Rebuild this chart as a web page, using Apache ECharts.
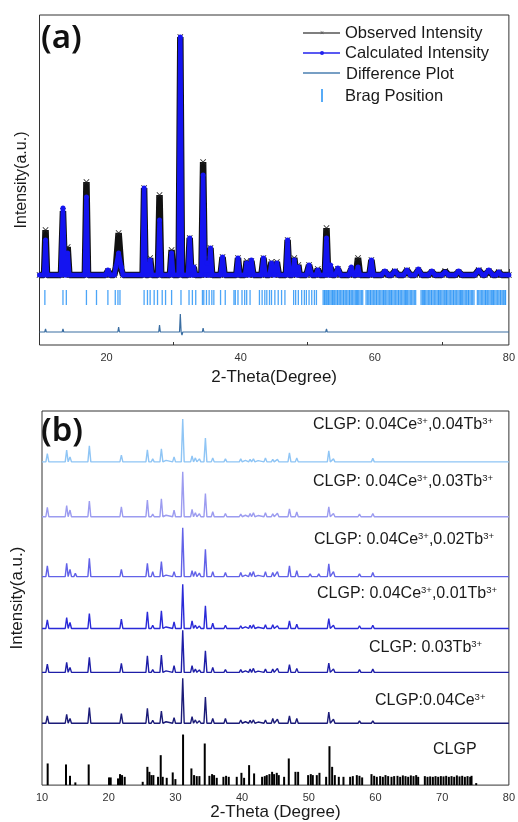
<!DOCTYPE html>
<html>
<head>
<meta charset="utf-8">
<script src="https://cdn.jsdelivr.net/npm/echarts@6/dist/echarts.min.js"></script>
<style>
  html, body { margin: 0; padding: 0; background: #fff; }
  #main { width: 518px; height: 822px; }
</style>
</head>
<body>
<div id="main"></div>
<script>
// ---------- (a) Rietveld refinement ----------
// reflection positions (2θ), calculated / observed peak heights (a.u.), half widths (°)
const aPos = [10.9, 13.5, 14.2, 17.0, 20.2, 21.4, 21.8, 22.2, 25.6, 26.5, 27.9, 29.7, 31.0, 32.4, 33.0, 34.4, 35.0, 35.5, 37.3, 39.6, 40.9, 41.6, 43.4, 44.6, 45.4, 47.0, 48.0, 48.6, 50.2, 51.5, 52.8, 53.4, 54.5, 56.5, 57.5, 59.5, 61.5, 63.0, 64.8, 66.5, 68.5, 70.5, 72.5, 75.5, 77.0, 78.5];
const aCalc = [35, 67, 22, 78, 5, 8, 22, 8, 87, 15, 55, 22, 238, 37, 8, 100, 12, 27, 18, 17, 12, 15, 17, 12, 12, 35, 15, 8, 10, 5, 37, 10, 7, 8, 8, 15, 4, 4, 5, 6, 4, 3, 4, 5, 5, 3];
const aObs = [45, 64, 28, 93, 4, 8, 42, 6, 87, 17, 80, 25, 238, 37, 8, 113, 18, 27, 18, 17, 14, 14, 17, 13, 13, 35, 17, 10, 10, 6, 47, 8, 6, 6, 17, 15, 3, 4, 5, 5, 3, 4, 3, 5, 4, 3];
const aWidth = [0.22, 0.3, 0.25, 0.24, 0.35, 0.25, 0.25, 0.25, 0.22, 0.25, 0.25, 0.25, 0.25, 0.25, 0.2, 0.25, 0.2, 0.25, 0.3, 0.25, 0.25, 0.3, 0.3, 0.3, 0.3, 0.25, 0.3, 0.2, 0.4, 0.3, 0.25, 0.2, 0.4, 0.35, 0.3, 0.3, 0.5, 0.5, 0.5, 0.5, 0.5, 0.5, 0.5, 0.6, 0.6, 0.4];

// difference curve (observed - calculated)
const diffPos = [10.9, 13.5, 14.2, 17.0, 21.8, 25.6, 26.5, 27.9, 29.7, 31.0, 31.25, 32.4, 34.4, 35.0, 47.0, 52.8, 57.5];
const diffVal = [3, 3, 2, 2, 5, 2, 2, 7, 2, 18, -3, 2, 4, 2, 2, 3, 1.5];
const diffBase = -57;

// Bragg reflection positions (2θ)
const braggPos = [
  10.8, 13.5, 14.0, 17.0, 18.5, 20.2, 21.3, 21.7, 22.0, 25.6, 26.1, 26.5, 27.1, 27.6, 28.3, 28.8, 29.7, 31.1,
  32.3, 32.8, 33.3, 34.3, 34.5, 34.9, 35.3, 35.7, 36.0, 37.0, 37.7, 39.0, 39.2, 39.6, 40.2, 40.6, 40.9, 41.4,
  42.8, 43.2, 43.6, 43.9, 44.3, 44.6, 45.1, 45.6, 46.1, 46.6, 47.9, 48.2, 48.6, 49.1, 49.5, 49.8, 50.2, 50.6,
  51.0, 51.3,
  52.3, 52.5, 52.6, 52.8, 53.0, 53.1, 53.3, 53.5, 53.7, 53.8, 54.0, 54.2, 54.4, 54.5, 54.7, 54.9, 55.1, 55.3,
  55.4, 55.6, 55.8, 56.0, 56.2, 56.3, 56.5, 56.7, 56.9, 57.1, 57.3, 57.4, 57.6, 57.8, 58.0, 58.2,
  58.7, 58.9, 59.1, 59.3, 59.4, 59.6, 59.8, 60.0, 60.2, 60.3, 60.5, 60.7, 60.9, 61.1, 61.3, 61.4, 61.6, 61.8,
  62.0, 62.2, 62.4, 62.5, 62.7, 62.9, 63.1, 63.3, 63.5, 63.6, 63.8, 64.0, 64.2, 64.4, 64.6, 64.7, 64.9, 65.1,
  65.3, 65.5, 65.7, 65.9, 66.1,
  66.9, 67.1, 67.3, 67.4, 67.6, 67.8, 68.0, 68.2, 68.4, 68.5, 68.7, 68.9, 69.1, 69.3, 69.5, 69.6, 69.8, 70.0,
  70.2, 70.4, 70.6, 70.7, 70.9, 71.1, 71.3, 71.5, 71.7, 71.8, 72.0, 72.2, 72.4, 72.6, 72.8, 72.9, 73.1, 73.3,
  73.5, 73.7, 73.9, 74.0, 74.2, 74.4, 74.6, 74.8,
  75.3, 75.5, 75.7, 75.9, 76.1, 76.3, 76.5, 76.6, 76.8, 77.0, 77.2, 77.4, 77.6, 77.7, 77.9, 78.1, 78.3, 78.5,
  78.7, 78.8, 79.0, 79.2, 79.4, 79.5
];
const braggLevel = -22.5;

// ---------- (b) XRD patterns ----------
const bPeaks = [10.8, 13.7, 14.2, 15.0, 17.1, 21.9, 25.8, 26.6, 27.9, 29.8, 31.1, 32.5, 33.0, 33.6, 34.5, 35.6, 37.5, 39.8, 41.2, 41.7, 43.5, 44.6, 45.3, 47.1, 48.2, 50.2, 51.5, 53.0, 53.7, 57.6, 59.6];
const tb04ce04 = [8.3, 11.7, 5, 2, 16, 6.7, 12, 3, 13, 5, 43, 6, 4, 3, 24, 4, 3, 3, 2.5, 3, 4, 2.5, 2.5, 9, 4, 2, 2, 11, 3, 2, 3.5];
const tb03ce04 = [9.3, 11.3, 6.7, 1.5, 15.7, 10, 16.7, 2.7, 18, 6.7, 45, 7.3, 4, 3, 23.3, 5, 3.3, 2.7, 3.3, 4, 4, 3, 3.5, 8, 4.7, 2, 2, 10, 3.3, 2.7, 3.3];
const tb02ce04 = [10.7, 13.3, 7.3, 3.3, 18.3, 7.3, 13.3, 5, 15, 5, 49, 6, 5, 3.5, 27.3, 5, 4, 4, 4, 5, 5, 4, 5, 10.7, 6, 2.7, 2.7, 12.7, 5, 2.7, 4];
const tb01ce04 = [8.7, 11, 6, 1.5, 15, 9.3, 16.7, 3.3, 17.7, 6.7, 44.3, 7.7, 3.3, 2.5, 22.7, 5.3, 3.3, 2.7, 3.3, 3.7, 3.7, 3.7, 2.7, 7.7, 4.3, 2, 2, 10, 3.3, 2.7, 3.3];
const tb03 = [8.3, 10, 5, 1.5, 15, 9, 16.7, 2.7, 17.3, 6.7, 42.3, 6.7, 3.3, 2.5, 21.7, 5, 2.7, 2.7, 3.3, 4, 3.3, 3.3, 4, 7.7, 4, 2, 2, 9.3, 3.3, 2.7, 3.3];
const ce04 = [7.3, 9, 4.7, 1.5, 15.7, 9.7, 15, 3, 12.3, 5.7, 45, 6.7, 3.3, 2.5, 26.3, 4.7, 4.7, 3.3, 3, 3.3, 3.3, 4.7, 4, 7.3, 4.7, 2, 2, 11.3, 4, 2.3, 2.3];
// weak reflections shared by all samples
const bMinorPos = [12.3, 16.0, 18.6, 19.5, 20.3, 23.1, 24.2, 28.6, 30.3, 36.4, 38.5, 40.5, 42.4, 46.2, 49.0, 54.8, 56.0, 58.6, 61.0, 62.5, 64.0, 65.5, 66.8, 68.3, 69.8, 71.3, 72.8, 74.3, 75.8, 77.3, 78.8];
const bMinorHeight = [1.2, 1.0, 1.3, 1.0, 1.5, 1.2, 1.0, 1.5, 1.2, 1.5, 1.3, 1.5, 1.2, 1.5, 1.5, 1.5, 1.3, 1.2, 1.3, 1.0, 1.3, 1.0, 1.5, 1.0, 1.2, 1.0, 1.3, 1.0, 1.2, 1.3, 1.0];
// vertical stacking offsets of the patterns
const bOffsets = { ce04: 62, tb03: 113, tb01ce04: 157, tb02ce04: 209, tb03ce04: 269, tb04ce04: 324 };

// CLGP standard card: [2θ, relative intensity]
const clgpSticks = [
  [10.85, 21.7], [13.6, 20.7], [14.2, 9.3], [15.0, 2.7], [17.0, 20.7], [20.05, 7.7], [20.3, 7.7], [21.4, 6.7],
  [21.7, 11], [22.0, 10], [22.4, 8.3], [25.1, 3.3], [25.8, 18.3], [26.1, 13.3], [26.4, 10], [26.7, 10],
  [27.4, 8.3], [27.8, 30], [28.1, 8.3], [28.7, 7.3], [29.6, 12.7], [30.0, 6], [31.15, 50.7], [32.4, 16.7],
  [32.8, 10], [33.2, 9], [33.6, 9], [34.4, 41.7], [35.1, 9.3], [35.5, 11], [35.8, 10], [36.2, 7.3],
  [37.2, 8.3], [37.6, 9.3], [38.0, 8.3], [39.2, 8.3], [39.9, 12.3], [40.3, 7.3], [41.05, 20], [41.8, 11.7],
  [43.0, 8.3], [43.4, 9], [43.7, 10], [44.1, 11], [44.5, 13.3], [44.8, 11], [45.2, 12.3], [45.5, 10],
  [46.3, 8.3], [47.0, 26.7], [48.0, 13.3], [48.4, 13.3], [49.9, 10], [50.3, 11], [50.6, 10], [51.2, 10],
  [51.6, 12.3], [52.6, 8.3], [53.1, 39], [53.5, 18.3], [53.9, 10], [54.5, 8.3], [55.2, 8.3], [56.2, 8.3],
  [56.6, 9], [57.2, 10], [57.6, 9.3], [58.0, 7.7], [59.4, 11], [59.8, 9.3], [60.2, 8.3], [60.7, 9],
  [61.1, 8.3], [61.5, 10], [61.9, 9], [62.4, 8.3], [62.8, 9], [63.3, 9.3], [63.7, 8.3], [64.1, 9.7],
  [64.5, 9], [64.9, 8.3], [65.3, 9.7], [65.7, 9], [66.1, 10], [66.4, 8.3], [67.4, 9], [67.8, 8.3],
  [68.2, 8.7], [68.6, 8.3], [69.0, 9], [69.4, 8.3], [69.8, 9], [70.2, 8.7], [70.6, 9.3], [71.0, 8.3],
  [71.4, 9], [71.8, 8.3], [72.2, 9.7], [72.6, 8.7], [73.0, 9.3], [73.4, 8.3], [73.8, 9], [74.2, 8.3],
  [74.4, 9.3], [75.1, 2]
];

const FONT = '"Liberation Sans", Arial, sans-serif';

// Turn a peak list into line vertices: each reflection rises from the baseline to its apex and back.
function buildProfile(pos, heights, halfWidths, base) {
  const order = pos.map((p, i) => i).sort((a, b) => pos[a] - pos[b]);
  const pts = [[10, base]];
  order.forEach(i => {
    const p = pos[i];
    const hw = Array.isArray(halfWidths) ? halfWidths[i] : halfWidths;
    const last = pts[pts.length - 1];
    if (p - hw > last[0]) pts.push([p - hw, base]);
    else if (pts.length > 1 && last[1] === base) pts.pop();
    pts.push([p, base + heights[i]]);
    pts.push([p + hw, base]);
  });
  pts.push([80, base]);
  return pts;
}

function pattern(heights, base) {
  return buildProfile(bPeaks.concat(bMinorPos), heights.concat(bMinorHeight), 0.22, base);
}

const xMark = 'path://M0,1L1,0L5,4L9,0L10,1L6,5L10,9L9,10L5,6L1,10L0,9L4,5Z';

const bSeries = [
  { key: 'tb04ce04', data: tb04ce04, color: '#8fc5f5' },
  { key: 'tb03ce04', data: tb03ce04, color: '#9c9cf0' },
  { key: 'tb02ce04', data: tb02ce04, color: '#6262e8' },
  { key: 'tb01ce04', data: tb01ce04, color: '#2a2ad8' },
  { key: 'tb03', data: tb03, color: '#1e1ea8' },
  { key: 'ce04', data: ce04, color: '#1b1b78' }
].map(s => ({
  type: 'line', xAxisIndex: 2, yAxisIndex: 1,
  data: pattern(s.data, bOffsets[s.key]),
  showSymbol: false, lineStyle: { color: s.color, width: 1.4 }, itemStyle: { color: s.color },
  silent: true, z: 3
}));

function supLabel(text, x, y) {
  return {
    type: 'text', x: x, y: y, silent: true,
    style: {
      text: text, align: 'left', verticalAlign: 'middle',
      rich: {
        m: { fontSize: 16, fontFamily: FONT, fill: '#1a1a1a', lineHeight: 18 },
        s: { fontSize: 9.5, fontFamily: FONT, fill: '#1a1a1a', lineHeight: 10, verticalAlign: 'top' }
      }
    }
  };
}

function legendText(text, x, y) {
  return { type: 'text', x: x, y: y, silent: true,
    style: { text: text, fontSize: 16.5, fontFamily: FONT, fill: '#1a1a1a', align: 'left', verticalAlign: 'middle' } };
}

const chart = echarts.init(document.getElementById('main'), null, { renderer: 'canvas' });

chart.setOption({
  animation: false,
  backgroundColor: '#fff',
  textStyle: { fontFamily: FONT },
  grid: [
    { left: 39.5, right: 6, top: 15, height: 330, show: true, borderColor: '#333', borderWidth: 1, backgroundColor: 'transparent' },
    { left: 42, right: 7, top: 411, height: 375, show: true, borderColor: '#333', borderWidth: 1, backgroundColor: 'transparent' }
  ],
  xAxis: [
    {
      gridIndex: 0, type: 'value', min: 10, max: 80, position: 'bottom',
      axisLine: { show: false },
      axisTick: { show: true, inside: true, length: 6, customValues: [20, 40, 60, 80], lineStyle: { color: '#333' } },
      axisLabel: { customValues: [20, 40, 60, 80], fontSize: 11, color: '#333', margin: 7, fontFamily: FONT },
      splitLine: { show: false },
      name: '2-Theta(Degree)', nameLocation: 'middle', nameGap: 24,
      nameTextStyle: { fontSize: 17, color: '#1a1a1a', fontFamily: FONT }
    },
    {
      gridIndex: 0, type: 'value', min: 10, max: 80, position: 'bottom',
      axisLine: { show: false },
      axisTick: { show: true, inside: true, length: 3, customValues: [30, 50, 70], lineStyle: { color: '#333' } },
      axisLabel: { show: false },
      splitLine: { show: false }
    },
    {
      gridIndex: 1, type: 'value', min: 10, max: 80, interval: 10, position: 'bottom',
      axisLine: { show: false },
      axisTick: { show: false },
      axisLabel: { fontSize: 11, color: '#333', margin: 7, fontFamily: FONT },
      splitLine: { show: false },
      name: '2-Theta (Degree)', nameLocation: 'middle', nameGap: 16,
      nameTextStyle: { fontSize: 17, color: '#1a1a1a', fontFamily: FONT }
    }
  ],
  yAxis: [
    {
      gridIndex: 0, type: 'value', min: -70, max: 260,
      axisLine: { show: false }, axisTick: { show: false }, axisLabel: { show: false }, splitLine: { show: false },
      name: 'Intensity(a.u.)', nameLocation: 'middle', nameGap: 10,
      nameTextStyle: { fontSize: 16, color: '#1a1a1a', fontFamily: FONT }
    },
    {
      gridIndex: 1, type: 'value', min: 0, max: 375,
      axisLine: { show: false }, axisTick: { show: false }, axisLabel: { show: false }, splitLine: { show: false },
      name: 'Intensity(a.u.)', nameLocation: 'middle', nameGap: 16,
      nameTextStyle: { fontSize: 17, color: '#1a1a1a', fontFamily: FONT }
    }
  ],
  series: [
    {
      name: 'Observed Intensity', type: 'line', xAxisIndex: 0, yAxisIndex: 0,
      data: buildProfile(aPos, aObs, aWidth, 0),
      symbol: xMark, symbolSize: 6, showSymbol: true,
      lineStyle: { color: '#111', width: 6.5 }, itemStyle: { color: '#222' },
      silent: true, z: 2
    },
    {
      name: 'Calculated Intensity', type: 'line', xAxisIndex: 0, yAxisIndex: 0,
      data: buildProfile(aPos, aCalc, aWidth, 0),
      symbol: 'circle', symbolSize: 5, showSymbol: true,
      lineStyle: { color: '#1414f0', width: 4.5 }, itemStyle: { color: '#1414f0' },
      silent: true, z: 3
    },
    {
      name: 'Difference Plot', type: 'line', xAxisIndex: 0, yAxisIndex: 0,
      data: buildProfile(diffPos, diffVal, 0.12, diffBase),
      showSymbol: false, lineStyle: { color: '#3a6ea2', width: 1.2 },
      silent: true, z: 3
    },
    {
      name: 'Brag Position', type: 'scatter', xAxisIndex: 0, yAxisIndex: 0,
      data: braggPos.map(p => [p, braggLevel]),
      symbol: 'rect', symbolSize: [1.3, 15],
      itemStyle: { color: '#1f8ff5' }, silent: true, z: 3
    },
    {
      name: 'CLGP', type: 'bar', xAxisIndex: 2, yAxisIndex: 1,
      data: clgpSticks, barWidth: 2,
      itemStyle: { color: '#000' }, silent: true, z: 3
    }
  ].concat(bSeries),
  graphic: [
    { type: 'text', x: 41, y: 39, silent: true,
      style: { text: '(a)', fontSize: 33, fontWeight: 600, fontFamily: '"Noto Sans", sans-serif', fill: '#111', align: 'left', verticalAlign: 'middle' } },
    { type: 'text', x: 41, y: 432, silent: true, z: 10,
      style: { text: '(b)', fontSize: 33, fontWeight: 600, fontFamily: '"Noto Sans", sans-serif', fill: '#111', align: 'left', verticalAlign: 'middle' } },

    // legend of panel (a)
    { type: 'line', shape: { x1: 303, y1: 33, x2: 340, y2: 33 }, style: { stroke: '#555', lineWidth: 1.5 }, silent: true },
    { type: 'text', x: 322, y: 33, silent: true, style: { text: '×', fontSize: 7, fill: '#555', align: 'center', verticalAlign: 'middle' } },
    legendText('Observed Intensity', 345, 33),
    { type: 'line', shape: { x1: 303, y1: 53, x2: 340, y2: 53 }, style: { stroke: '#2222ee', lineWidth: 1.5 }, silent: true },
    { type: 'circle', shape: { cx: 322, cy: 53, r: 2 }, style: { fill: '#2222ee' }, silent: true },
    legendText('Calculated Intensity', 345, 53),
    { type: 'line', shape: { x1: 303, y1: 73, x2: 340, y2: 73 }, style: { stroke: '#4a7fb0', lineWidth: 1.5 }, silent: true },
    legendText('Difference Plot', 346, 74),
    { type: 'line', shape: { x1: 322, y1: 89, x2: 322, y2: 102 }, style: { stroke: '#1f8ff5', lineWidth: 1.5 }, silent: true },
    legendText('Brag Position', 345, 96),

    // sample labels of panel (b)
    supLabel('{m|CLGP: 0.04Ce}{s|3+}{m|,0.04Tb}{s|3+}', 313, 425),
    supLabel('{m|CLGP: 0.04Ce}{s|3+}{m|,0.03Tb}{s|3+}', 313, 482),
    supLabel('{m|CLGP: 0.04Ce}{s|3+}{m|,0.02Tb}{s|3+}', 314, 540),
    supLabel('{m|CLGP: 0.04Ce}{s|3+}{m|,0.01Tb}{s|3+}', 317, 594),
    supLabel('{m|CLGP: 0.03Tb}{s|3+}', 369, 648),
    supLabel('{m|CLGP:0.04Ce}{s|3+}', 375, 701),
    supLabel('{m|CLGP}', 433, 750)
  ]
});
</script>
</body>
</html>
